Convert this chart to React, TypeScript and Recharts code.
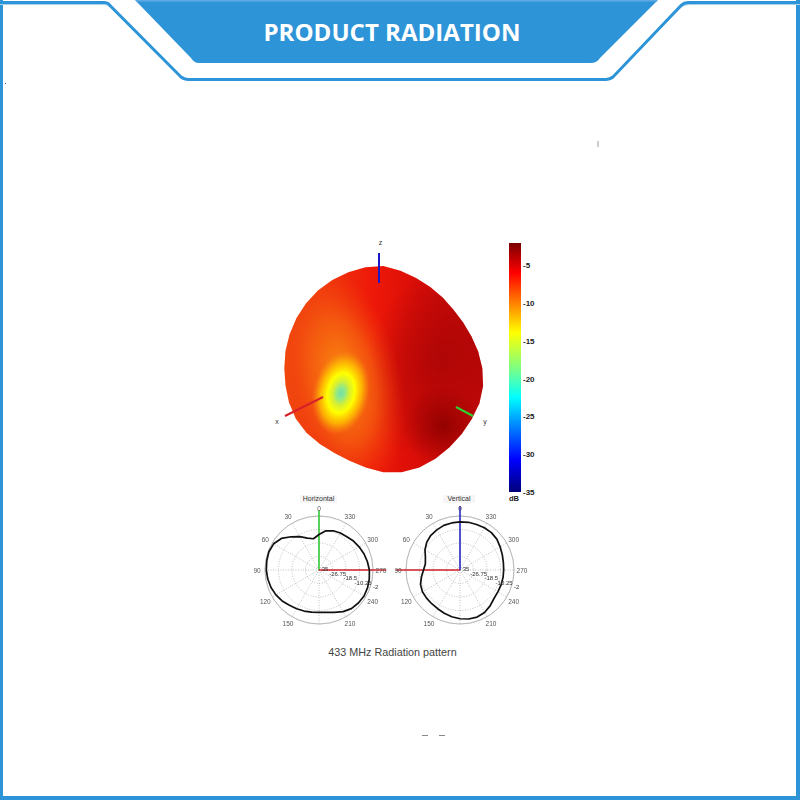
import React from 'react';
import {
  RadarChart, Radar, PolarGrid, PolarAngleAxis, PolarRadiusAxis,
  BarChart, Bar, XAxis, YAxis, ScatterChart, Scatter,
} from 'recharts';

// Bearings run clockwise on screen; the printed label is 360 - bearing.
const patternLabels = [0, 350, 340, 330, 320, 310, 300, 290, 280, 270, 260, 250, 240, 230, 220, 210, 200, 190, 180, 170, 160, 150, 140, 130, 120, 110, 100, 90, 80, 70, 60, 50, 40, 30, 20, 10];
const horizontalGain = [-13.3, -10.7, -9.5, -8.9, -8.5, -7.5, -6.7, -5.8, -5, -4.2, -3.8, -3.4, -3.2, -3.6, -4.2, -5.6, -7.5, -8.7, -9.1, -8.9, -8.3, -7.7, -6.9, -5.6, -4.6, -3.8, -3.2, -2.8, -2.6, -2.4, -3, -5, -8.5, -11.5, -14.3, -15.6];
const verticalGain = [-5.6, -5.4, -5.4, -5.2, -5.2, -5.6, -6.7, -7.5, -8.1, -8.3, -8.3, -8.3, -8.3, -7.9, -6.4, -5, -4.4, -4.6, -5.2, -6, -6.9, -7.7, -8.1, -8.3, -8.5, -9.3, -11.1, -12.7, -13.5, -12.5, -10.3, -8.5, -7.3, -6.7, -6, -5.8];
const radiusTicks = [-35, -26.75, -18.5, -10.25, -2];
const gridAngles = [0, 30, 60, 90, 120, 150, 180, 210, 240, 270, 300, 330];
const sphereOutline = [307, 297, 288, 282, 277, 274, 276, 281, 289, 297, 304, 307, 306, 307, 309, 313, 317, 317, 312, 302, 295, 293, 296, 301, 303, 301, 298, 297, 298, 299, 301, 303, 305, 306, 307, 308];
const colorbarTicks = [-5, -10, -15, -20, -25, -30, -35];
const colorbarRange = [{ name: 'dB', range: [-35, -2] }];

const zAxis3d = [{ x: 379, y: 253 }, { x: 379, y: 283 }];
const xAxis3d = [{ x: 285, y: 416 }, { x: 323, y: 397 }];
const yAxis3d = [{ x: 456, y: 407 }, { x: 473, y: 416 }];

const spike = (label: number, gain: number) => patternLabels.map((l) => (l === label ? gain : -35));

const makeRows = (gain: number[], s1: number[], s2: number[]) =>
  patternLabels.map((angle, i) => ({ angle, gain: gain[i], a: s1[i], b: s2[i] }));

const horizontalRows = makeRows(horizontalGain, spike(0, 1.45), spike(270, 6.1));
const verticalRows = makeRows(verticalGain, spike(0, 4.1), spike(90, 4.1));
const sphereRows = patternLabels.map((angle, i) => ({ angle, r: sphereOutline[i] }));

const SANS = '"Liberation Sans", Arial, sans-serif';

const AngleTick = (props: any) => {
  const { x, y, payload } = props;
  if (payload.value % 30 !== 0 || payload.value === 180) return <g />;
  return (
    <text x={x} y={y} textAnchor="middle" dominantBaseline="central" fontSize={6.5} fontFamily={SANS} fill="#555">
      {payload.value}
    </text>
  );
};

const RadiusTick = (props: any) => {
  const { x, y, payload } = props;
  const label = payload.value === -35 ? '35' : String(payload.value);
  return (
    <text x={x + 6} y={y - 1} textAnchor="middle" dominantBaseline="central" fontSize={6} fontFamily={SANS} fill="#333">
      {label}
    </text>
  );
};

const Pattern = ({ rows, cx, cy, c1 }: { rows: any[]; cx: number; cy: number; c1: string }) => (
  <div style={{ position: 'absolute', left: cx - 100, top: cy - 100, filter: 'blur(0.35px)' }}>
    <RadarChart width={200} height={200} cx={100} cy={100} outerRadius={54} data={rows} margin={{ top: 0, right: 0, bottom: 0, left: 0 }}>
      <PolarGrid gridType="circle" polarRadius={[13.5, 27, 40.5, 54]} polarAngles={gridAngles} stroke="#999" strokeDasharray="1 1.5" strokeWidth={0.6} />
      <PolarGrid gridType="circle" polarRadius={[54]} polarAngles={[]} radialLines={false} stroke="#aaa" strokeWidth={0.8} />
      <PolarAngleAxis dataKey="angle" axisLine={false} tickLine={false} tickSize={8} tick={AngleTick} />
      <PolarRadiusAxis angle={-20} domain={[-35, -2]} allowDataOverflow ticks={radiusTicks as any} axisLine={false} tickLine={false} tick={RadiusTick} />
      <Radar dataKey="a" stroke={c1} strokeWidth={1.5} fill="none" dot={false} isAnimationActive={false} />
      <Radar dataKey="b" stroke="#d0222a" strokeWidth={1.5} fill="none" dot={false} isAnimationActive={false} />
      <Radar dataKey="gain" stroke="#111" strokeWidth={1.7} strokeLinejoin="round" fill="none" dot={false} isAnimationActive={false} />
    </RadarChart>
  </div>
);

export default function App() {
  return (
    <div style={{ position: 'absolute', left: 0, top: 0, width: 800, height: 800, background: '#fff', overflow: 'hidden' }}>
      <svg width={800} height={800} style={{ position: 'absolute', left: 0, top: 0 }}>
        <rect x={0} y={0} width={3} height={800} fill="#2e94d8" />
        <rect x={796} y={0} width={4} height={800} fill="#2e94d8" />
        <rect x={0} y={796} width={800} height={4} fill="#2e94d8" />
        <path d="M0 4.5 H103 Q108 4.5 111 7.5 L181 77 Q184 80.5 188 80.5 H606 Q610 80.5 613 77 L681 7.5 Q684 4.5 689 4.5 H800" fill="none" stroke="#a8d2ef" strokeWidth={1} />
        <path d="M0 2.5 H104 Q108 2.5 110 5.5 L181 77 Q184 79.5 188 79.5 H606 Q610 79.5 613 77 L681 5.5 Q684 2.5 689 2.5 H800" fill="none" stroke="#2e94d8" strokeWidth={3} />
        <path d="M135 0 H658 L600 58 Q597 63 591 63 H199 Q194 63 191 58 Z" fill="#2e94d8" />
        <rect x={136} y={0} width={521} height={1.6} fill="#5da9e0" />
        <text x={392} y={41} textAnchor="middle" fontSize={24} fontWeight={700} fontFamily={'"Open Sans", sans-serif'} fill="#fff" textLength={257} lengthAdjust="spacingAndGlyphs">
          PRODUCT RADIATION
        </text>
        <rect x={5} y={83} width={1} height={1} fill="#3a6ea8" />
        <rect x={597.5} y={141} width={1} height={6} fill="#a09ba6" />
        <rect x={422} y={735} width={6} height={1} fill="#888" />
        <rect x={439} y={735} width={6} height={1} fill="#888" />
        <text x={392.5} y={656} textAnchor="middle" fontSize={10.8} fontFamily={SANS} fill="#444">433 MHz Radiation pattern</text>
        <rect x={300} y={495} width={37} height={8} fill="#f6f6f6" />
        <text x={318.5} y={501} textAnchor="middle" fontSize={7} fontFamily={SANS} fill="#333">Horizontal</text>
        <rect x={443} y={495} width={32} height={8} fill="#f6f6f6" />
        <text x={459} y={501} textAnchor="middle" fontSize={7} fontFamily={SANS} fill="#333">Vertical</text>
        <text x={380.5} y={245} textAnchor="middle" fontSize={7} fontFamily={SANS} fill="#333">z</text>
        <text x={277} y={424} textAnchor="middle" fontSize={7} fontFamily={SANS} fill="#333">x</text>
        <text x={485} y={424} textAnchor="middle" fontSize={7} fontFamily={SANS} fill="#333">y</text>
        <text x={514} y={501} textAnchor="middle" fontSize={7.5} fontWeight={700} fontFamily={SANS} fill="#222">dB</text>
      </svg>

      <div style={{ position: 'absolute', left: 263, top: 248, filter: 'blur(0.6px)' }}>
        <RadarChart width={240} height={240} cx={120.3} cy={120.3} outerRadius={110} data={sphereRows} margin={{ top: 0, right: 0, bottom: 0, left: 0 }}>
          <defs>
            <linearGradient id="base" gradientUnits="userSpaceOnUse" x1={20} y1={0} x2={220} y2={0}>
              <stop offset="0" stopColor="#f0480e" />
              <stop offset="0.25" stopColor="#f0300c" />
              <stop offset="0.45" stopColor="#ee1808" />
              <stop offset="0.7" stopColor="#d80c08" />
              <stop offset="1" stopColor="#c00808" />
            </linearGradient>
            <radialGradient id="dark1" gradientUnits="userSpaceOnUse" cx={0} cy={0} r={1} gradientTransform="translate(178 110) rotate(20) scale(72 105)">
              <stop offset="0" stopColor="#a60505" stopOpacity={0.8} />
              <stop offset="0.55" stopColor="#a60505" stopOpacity={0.4} />
              <stop offset="1" stopColor="#a60505" stopOpacity={0} />
            </radialGradient>
            <radialGradient id="dark2" gradientUnits="userSpaceOnUse" cx={180} cy={178} r={40}>
              <stop offset="0" stopColor="#8c0000" stopOpacity={0.85} />
              <stop offset="1" stopColor="#8c0000" stopOpacity={0} />
            </radialGradient>
            <radialGradient id="band" gradientUnits="userSpaceOnUse" cx={0} cy={0} r={1} gradientTransform="translate(80 132) rotate(-12) scale(58 115)">
              <stop offset="0" stopColor="#fa9a10" stopOpacity={0.95} />
              <stop offset="0.55" stopColor="#f66a10" stopOpacity={0.65} />
              <stop offset="1" stopColor="#f04010" stopOpacity={0} />
            </radialGradient>
            <radialGradient id="spot" gradientUnits="userSpaceOnUse" cx={0} cy={0} r={1} gradientTransform="translate(78 145) rotate(12) scale(28 42)">
              <stop offset="0" stopColor="#6fdfa8" />
              <stop offset="0.14" stopColor="#90e888" />
              <stop offset="0.3" stopColor="#d8f030" />
              <stop offset="0.48" stopColor="#ffff00" />
              <stop offset="0.74" stopColor="#ffc000" stopOpacity={0.8} />
              <stop offset="1" stopColor="#fa9a10" stopOpacity={0} />
            </radialGradient>
          </defs>
          <PolarAngleAxis dataKey="angle" axisLine={false} tickLine={false} tick={false} />
          <PolarRadiusAxis domain={[0, 330]} axisLine={false} tickLine={false} tick={false} />
          <Radar dataKey="r" name="base" fill="url(#base)" fillOpacity={1} stroke="none" dot={false} isAnimationActive={false} />
          <Radar dataKey="r" name="dark1" fill="url(#dark1)" fillOpacity={1} stroke="none" dot={false} isAnimationActive={false} />
          <Radar dataKey="r" name="dark2" fill="url(#dark2)" fillOpacity={1} stroke="none" dot={false} isAnimationActive={false} />
          <Radar dataKey="r" name="band" fill="url(#band)" fillOpacity={1} stroke="none" dot={false} isAnimationActive={false} />
          <Radar dataKey="r" name="spot" fill="url(#spot)" fillOpacity={1} stroke="none" dot={false} isAnimationActive={false} />
        </RadarChart>
      </div>

      <div style={{ position: 'absolute', left: 0, top: 0 }}>
        <ScatterChart width={800} height={800} margin={{ top: 0, right: 0, bottom: 0, left: 0 }}>
          <XAxis type="number" dataKey="x" domain={[0, 800]} hide />
          <YAxis type="number" dataKey="y" domain={[0, 800]} reversed hide />
          <Scatter data={zAxis3d} line={{ stroke: '#1818c8', strokeWidth: 2 }} shape={() => <g />} isAnimationActive={false} />
          <Scatter data={xAxis3d} line={{ stroke: '#d8202a', strokeWidth: 2 }} shape={() => <g />} isAnimationActive={false} />
          <Scatter data={yAxis3d} line={{ stroke: '#30d030', strokeWidth: 2 }} shape={() => <g />} isAnimationActive={false} />
        </ScatterChart>
      </div>

      <div style={{ position: 'absolute', left: 500, top: 233 }}>
        <BarChart width={60} height={270} data={colorbarRange} margin={{ top: 10, right: 0, bottom: 11, left: 9 }} barCategoryGap={0}>
          <defs>
            <linearGradient id="jet" x1="0" y1="0" x2="0" y2="1">
              <stop offset="0" stopColor="#7a0000" />
              <stop offset="0.12" stopColor="#ff0000" />
              <stop offset="0.24" stopColor="#ff8000" />
              <stop offset="0.36" stopColor="#ffff00" />
              <stop offset="0.5" stopColor="#80ff80" />
              <stop offset="0.62" stopColor="#00ffff" />
              <stop offset="0.74" stopColor="#0080ff" />
              <stop offset="0.87" stopColor="#0000ff" />
              <stop offset="1" stopColor="#00007a" />
            </linearGradient>
          </defs>
          <XAxis dataKey="name" hide />
          <YAxis orientation="right" width={39} domain={[-35, -2]} ticks={colorbarTicks} interval={0} axisLine={false} tickLine={false} tickMargin={2} tickSize={0} tick={{ fontSize: 8, fontFamily: SANS, fontWeight: 700, fill: '#222' }} />
          <Bar dataKey="range" fill="url(#jet)" isAnimationActive={false} />
        </BarChart>
      </div>

      <Pattern rows={horizontalRows} cx={319} cy={570} c1="#28c828" />
      <Pattern rows={verticalRows} cx={459.5} cy={570} c1="#1c1cc0" />
    </div>
  );
}
